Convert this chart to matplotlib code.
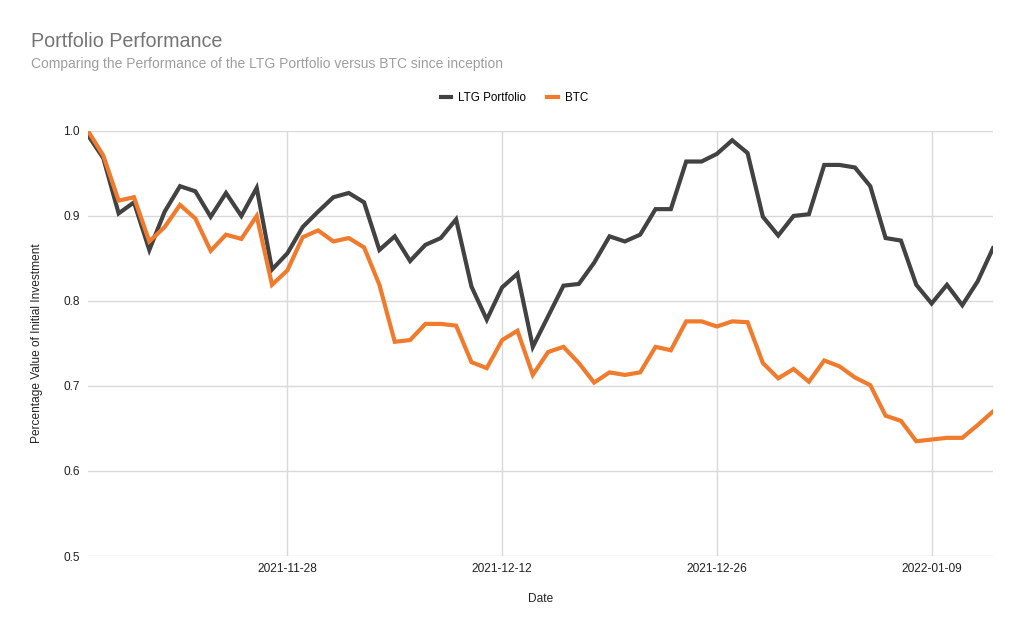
import matplotlib.pyplot as plt
import matplotlib.dates as mdates
import numpy as np
import pandas as pd

plt.rcParams['font.family'] = ['Liberation Sans', 'DejaVu Sans']

# daily values, 2021-11-15 .. 2022-01-13
dates = pd.date_range("2021-11-15", "2022-01-13", freq="D")

ltg = [0.995, 0.968, 0.903, 0.916, 0.860, 0.905, 0.935, 0.929, 0.899, 0.927,
       0.900, 0.933, 0.837, 0.856, 0.887, 0.905, 0.922, 0.927, 0.916, 0.860,
       0.876, 0.847, 0.866, 0.874, 0.896, 0.817, 0.778, 0.816, 0.832, 0.746,
       0.782, 0.818, 0.820, 0.845, 0.876, 0.870, 0.878, 0.908, 0.908, 0.964,
       0.964, 0.973, 0.989, 0.974, 0.899, 0.877, 0.900, 0.902, 0.960, 0.960,
       0.957, 0.935, 0.874, 0.871, 0.819, 0.797, 0.819, 0.795, 0.823, 0.862]

btc = [1.000, 0.971, 0.918, 0.922, 0.870, 0.887, 0.913, 0.897, 0.859, 0.878,
       0.873, 0.900, 0.819, 0.836, 0.875, 0.883, 0.870, 0.874, 0.863, 0.819,
       0.752, 0.754, 0.773, 0.773, 0.771, 0.728, 0.721, 0.754, 0.765, 0.713,
       0.740, 0.746, 0.727, 0.704, 0.716, 0.713, 0.716, 0.746, 0.742, 0.776,
       0.776, 0.770, 0.776, 0.775, 0.727, 0.709, 0.720, 0.705, 0.730, 0.723,
       0.710, 0.701, 0.665, 0.659, 0.635, 0.637, 0.639, 0.639, 0.654, 0.670]

fig = plt.figure(figsize=(10.24, 6.34), dpi=100)
ax = fig.add_axes([0.0859, 0.123, 0.8838, 0.6705])

ax.plot(dates, ltg, color="#424242", lw=3, label="LTG Portfolio", solid_joinstyle="miter")
ax.plot(dates, btc, color="#F07B2D", lw=3, label="BTC", solid_joinstyle="miter")

ax.set_ylim(0.5, 1.0)
ax.set_xlim(dates[0], dates[-1])
ax.set_yticks([0.5, 0.6, 0.7, 0.8, 0.9, 1.0])
ax.yaxis.set_major_formatter(plt.FuncFormatter(lambda v, p: f"{v:.1f}"))
ax.set_xticks(pd.to_datetime(["2021-11-28", "2021-12-12", "2021-12-26", "2022-01-09"]))
ax.xaxis.set_major_formatter(mdates.DateFormatter("%Y-%m-%d"))

ax.grid(True, color="#d9d9d9", lw=1)
ax.set_axisbelow(True)
for s in ax.spines.values():
    s.set_visible(False)
ax.tick_params(length=0, labelsize=8.6, colors="#222222")
ax.tick_params(axis='x', pad=5)
ax.tick_params(axis='y', pad=6)

ax.set_ylabel("Percentage Value of Initial Investment", fontsize=8.6, color="#222222")
ax.set_xlabel("Date", fontsize=8.6, color="#222222")
ax.yaxis.set_label_coords(-0.050, 0.5)
ax.xaxis.set_label_coords(0.5, -0.086)

fig.text(0.0303, 0.935, "Portfolio Performance", fontsize=14.2, color="#757575", va="center")
fig.text(0.0303, 0.899, "Comparing the Performance of the LTG Portfolio versus BTC since inception",
         fontsize=10, color="#9e9e9e", va="center")

fig.legend(loc="center", bbox_to_anchor=(0.5024, 0.845), ncol=2, frameon=False,
           fontsize=8.4, handlelength=0.9, handletextpad=0.6, columnspacing=1.8)

fig.savefig("out.png", dpi=100, facecolor="white")
